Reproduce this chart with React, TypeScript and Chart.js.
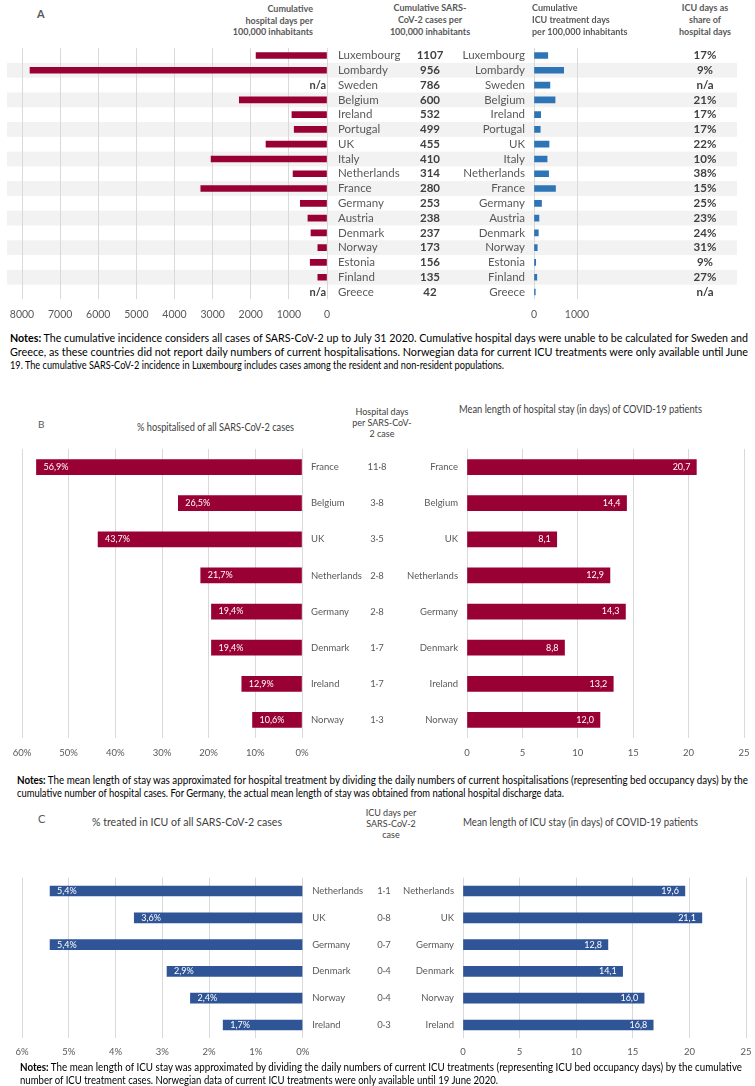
import React, { useEffect, useLayoutEffect, useRef } from 'react';
import { Chart, registerables } from 'chart.js';
Chart.register(...registerables);

const FONT = 'Lato, "Open Sans", "DejaVu Sans", sans-serif';
Chart.defaults.font.family = FONT;
const GRID = '#d9d9d9';
const TICK = '#595959';
const DARK = '#404040';
const RED = '#990033';
const BLUE_A = '#2e75b6';
const BLUE_C = '#2f5597';

// ---- Panel A data ----
const countriesA = ['Luxembourg', 'Lombardy', 'Sweden', 'Belgium', 'Ireland', 'Portugal', 'UK', 'Italy', 'Netherlands', 'France', 'Germany', 'Austria', 'Denmark', 'Norway', 'Estonia', 'Finland', 'Greece'];
const hospDaysA: (number | null)[] = [1860, 7790, null, 2300, 920, 860, 1600, 3040, 890, 3310, 700, 500, 420, 240, 440, 240, null];
const casesA = [1107, 956, 786, 600, 532, 499, 455, 410, 314, 280, 253, 238, 237, 173, 156, 135, 42];
const icuDaysA = [320, 690, 370, 490, 155, 145, 350, 305, 340, 500, 175, 115, 100, 75, 40, 65, 30];
const icuShareA = ['17%', '9%', 'n/a', '21%', '17%', '17%', '22%', '10%', '38%', '15%', '25%', '23%', '24%', '31%', '9%', '27%', 'n/a'];

// ---- Panel B data ----
const countriesB = ['France', 'Belgium', 'UK', 'Netherlands', 'Germany', 'Denmark', 'Ireland', 'Norway'];
const hospPctB = [56.9, 26.5, 43.7, 21.7, 19.4, 19.4, 12.9, 10.6];
const hospDaysPerCaseB = ['11·8', '3·8', '3·5', '2·8', '2·8', '1·7', '1·7', '1·3'];
const stayB = [20.7, 14.4, 8.1, 12.9, 14.3, 8.8, 13.2, 12.0];

// ---- Panel C data ----
const countriesC = ['Netherlands', 'UK', 'Germany', 'Denmark', 'Norway', 'Ireland'];
const icuPctC = [5.4, 3.6, 5.4, 2.9, 2.4, 1.7];
const icuDaysPerCaseC = ['1·1', '0·8', '0·7', '0·4', '0·4', '0·3'];
const icuStayC = [19.6, 21.1, 12.8, 14.1, 16.0, 16.8];

const comma1 = (v: number) => v.toFixed(1).replace('.', ',');

function valueLabels(fmt: (v: number) => string, side: 'left' | 'right', size: number) {
  return {
    id: 'valueLabels',
    afterDatasetsDraw(chart: any) {
      const meta = chart.getDatasetMeta(0);
      const ctx = chart.ctx;
      ctx.save();
      ctx.font = `${size}px ${FONT}`;
      ctx.fillStyle = '#ffffff';
      ctx.textBaseline = 'middle';
      meta.data.forEach((bar: any, i: number) => {
        const v = chart.data.datasets[0].data[i];
        if (v == null) return;
        const p = bar.getProps(['x', 'y', 'base'], true);
        if (side === 'left') {
          ctx.textAlign = 'left';
          ctx.fillText(fmt(v), Math.min(p.x, p.base) + 7, p.y);
        } else {
          ctx.textAlign = 'right';
          ctx.fillText(fmt(v), Math.max(p.x, p.base) - 6, p.y);
        }
      });
      ctx.restore();
    },
  };
}

type Col = { x: number; values: string[]; align: CanvasTextAlign; font: string; color: string };
function columns(cols: Col[]) {
  return {
    id: 'columns',
    afterDraw(chart: any) {
      const ys = chart.scales.y;
      const ctx = chart.ctx;
      ctx.save();
      ctx.textBaseline = 'middle';
      cols.forEach((c) => {
        ctx.font = c.font;
        ctx.fillStyle = c.color;
        ctx.textAlign = c.align;
        c.values.forEach((t, i) => {
          if (t) ctx.fillText(t, c.x, ys.getPixelForValue(i));
        });
      });
      ctx.restore();
    },
  };
}

function bands(x0: number, x1: number, color: string) {
  return {
    id: 'bands',
    beforeDraw(chart: any) {
      const ys = chart.scales.y;
      const n = chart.data.labels.length;
      const h = (ys.bottom - ys.top) / n;
      const ctx = chart.ctx;
      ctx.save();
      ctx.fillStyle = color;
      for (let i = 1; i < n; i += 2) {
        const c = ys.getPixelForValue(i);
        ctx.fillRect(x0, c - h / 2, x1 - x0, h);
      }
      ctx.restore();
    },
  };
}

type BarOpts = {
  labels: string[]; data: (number | null)[]; color: string; thickness: number;
  w: number; h: number; aL: number; aR: number; aT: number; aB: number;
  yPos: 'left' | 'right'; yPad: number; yFont: number;
  min: number; max: number; step: number; reverse: boolean; fmt: (v: number) => string; xFont: number; xPad: number;
  plugins: any[];
};

function barConfig(o: BarOpts): any {
  const padding = o.yPos === 'right'
    ? { left: o.aL, right: 0, top: o.aT, bottom: 0 }
    : { left: 0, right: o.w - o.aR, top: o.aT, bottom: 0 };
  const yWidth = o.yPos === 'right' ? o.w - o.aR : o.aL;
  return {
    type: 'bar',
    data: {
      labels: o.labels,
      datasets: [{ data: o.data, backgroundColor: o.color, barThickness: o.thickness, borderWidth: 0 }],
    },
    options: {
      indexAxis: 'y',
      responsive: true,
      maintainAspectRatio: false,
      animation: false,
      layout: { padding },
      plugins: { legend: { display: false }, tooltip: { enabled: false } },
      scales: {
        x: {
          type: 'linear', min: o.min, max: o.max, reverse: o.reverse,
          ticks: { stepSize: o.step, autoSkip: false, maxRotation: 0, callback: (v: any) => o.fmt(Number(v)), color: TICK, font: { size: o.xFont, family: FONT }, padding: o.xPad },
          grid: { color: GRID, drawTicks: false, lineWidth: 1 },
          border: { display: false },
          afterFit: (s: any) => { s.height = o.h - o.aB; s.paddingLeft = 0; s.paddingRight = 0; },
        },
        y: {
          position: o.yPos,
          grid: { display: false, drawTicks: false },
          border: { display: false },
          ticks: { autoSkip: false, color: TICK, font: { size: o.yFont, family: FONT }, padding: o.yPad },
          afterFit: (s: any) => { s.width = yWidth; s.paddingTop = 0; s.paddingBottom = 0; },
        },
      },
    },
    plugins: o.plugins,
  };
}

function BarCanvas({ left, top, width, height, opts }: { left: number; top: number; width: number; height: number; opts: BarOpts }) {
  const ref = useRef<HTMLCanvasElement>(null);
  useEffect(() => {
    const chart = new Chart(ref.current as HTMLCanvasElement, barConfig(opts));
    return () => chart.destroy();
  }, []);
  return (
    <div style={{ position: 'absolute', left, top, width, height }}>
      <canvas ref={ref} />
    </div>
  );
}

function T({ x, y, size, children, anchor = 'left', fitW, weight = 400, color = '#000' }: any) {
  const ref = useRef<HTMLSpanElement>(null);
  useLayoutEffect(() => {
    const el = ref.current;
    if (!el) return;
    el.style.transform = 'none';
    const w0 = el.getBoundingClientRect().width;
    const k = fitW && w0 > 0 ? fitW / w0 : 1;
    const w = w0 * k;
    const l = anchor === 'left' ? x : anchor === 'center' ? x - w / 2 : x - w;
    el.style.left = l + 'px';
    el.style.transform = `scaleX(${k})`;
  }, []);
  return (
    <span
      ref={ref}
      style={{
        position: 'absolute', left: x, top: y - size * 0.62, fontSize: size, lineHeight: `${size * 1.2}px`,
        fontFamily: FONT, fontWeight: weight, color, whiteSpace: 'nowrap', transformOrigin: '0 0',
      }}
    >
      {children}
    </span>
  );
}

export default function App() {
  const optsA1: BarOpts = {
    labels: countriesA, data: hospDaysA, color: RED, thickness: 6,
    w: 755, h: 290, aL: 22, aR: 327, aT: 8.1, aB: 259.4,
    yPos: 'right', yPad: 11, yFont: 11.5,
    min: 0, max: 8000, step: 1000, reverse: true, fmt: (v) => String(v), xFont: 10.5, xPad: 9,
    plugins: [
      bands(7, 737, '#f2f2f2'),
      columns([
        { x: 326, values: hospDaysA.map((v) => (v == null ? 'n/a' : '')), align: 'right', font: `bold 11px ${FONT}`, color: DARK },
        { x: 430, values: casesA.map(String), align: 'center', font: `bold 11.5px ${FONT}`, color: DARK },
        { x: 705, values: icuShareA, align: 'center', font: `bold 11.5px ${FONT}`, color: DARK },
      ]),
    ],
  };
  const optsA2: BarOpts = {
    labels: countriesA, data: icuDaysA, color: BLUE_A, thickness: 6,
    w: 200, h: 290, aL: 74, aR: 117, aT: 8.1, aB: 259.4,
    yPos: 'left', yPad: 9, yFont: 11.5,
    min: 0, max: 1000, step: 1000, reverse: false, fmt: (v) => String(v), xFont: 10.5, xPad: 9,
    plugins: [],
  };
  const optsB1: BarOpts = {
    labels: countriesB, data: hospPctB, color: RED, thickness: 15,
    w: 400, h: 320, aL: 22, aR: 302, aT: 9, aB: 298,
    yPos: 'right', yPad: 9, yFont: 9.5,
    min: 0, max: 60, step: 10, reverse: true, fmt: (v) => `${v}%`, xFont: 9.5, xPad: 9,
    plugins: [
      valueLabels((v) => `${comma1(v)}%`, 'left', 9),
      columns([{ x: 377, values: hospDaysPerCaseB, align: 'center', font: `9.5px ${FONT}`, color: TICK }]),
    ],
  };
  const optsB2: BarOpts = {
    labels: countriesB, data: stayB, color: RED, thickness: 15,
    w: 365, h: 320, aL: 77, aR: 354, aT: 9, aB: 298,
    yPos: 'left', yPad: 9, yFont: 9.5,
    min: 0, max: 25, step: 5, reverse: false, fmt: (v) => String(v), xFont: 9.5, xPad: 9,
    plugins: [valueLabels(comma1, 'right', 9)],
  };
  const optsC1: BarOpts = {
    labels: countriesC, data: icuPctC, color: BLUE_C, thickness: 10,
    w: 400, h: 195, aL: 22, aR: 302.7, aT: 7.6, aB: 168.4,
    yPos: 'right', yPad: 9.5, yFont: 9.5,
    min: 0, max: 6, step: 1, reverse: true, fmt: (v) => `${v}%`, xFont: 9.5, xPad: 8,
    plugins: [
      valueLabels((v) => `${comma1(v)}%`, 'left', 9),
      columns([{ x: 384, values: icuDaysPerCaseC, align: 'center', font: `9.5px ${FONT}`, color: TICK }]),
    ],
  };
  const optsC2: BarOpts = {
    labels: countriesC, data: icuStayC, color: BLUE_C, thickness: 10,
    w: 365, h: 195, aL: 73, aR: 356, aT: 7.6, aB: 168.4,
    yPos: 'left', yPad: 9, yFont: 9.5,
    min: 0, max: 25, step: 5, reverse: false, fmt: (v) => String(v), xFont: 9.5, xPad: 8,
    plugins: [valueLabels(comma1, 'right', 9)],
  };

  const H = { size: 9, weight: 700, color: TICK };
  return (
    <div style={{ position: 'absolute', left: 0, top: 0, width: 755, height: 1086, overflow: 'hidden', background: '#fff' }}>
      <BarCanvas left={0} top={40} width={755} height={290} opts={optsA1} />
      <BarCanvas left={460} top={40} width={200} height={290} opts={optsA2} />
      <BarCanvas left={0} top={440} width={400} height={320} opts={optsB1} />
      <BarCanvas left={390} top={440} width={365} height={320} opts={optsB2} />
      <BarCanvas left={0} top={870} width={400} height={195} opts={optsC1} />
      <BarCanvas left={390} top={870} width={365} height={195} opts={optsC2} />

      {/* Panel A headers */}
      <T x={37} y={14} size={11} weight={700} color={TICK}>A</T>
      <T x={313} y={10} anchor="right" {...H}>Cumulative</T>
      <T x={313} y={22} anchor="right" {...H}>hospital days per</T>
      <T x={313} y={33} anchor="right" {...H}>100,000  inhabitants</T>
      <T x={430} y={9} anchor="center" {...H}>Cumulative SARS-</T>
      <T x={430} y={21} anchor="center" {...H}>CoV-2 cases per</T>
      <T x={430} y={33} anchor="center" {...H}>100,000 inhabitants</T>
      <T x={532} y={9} {...H}>Cumulative</T>
      <T x={532} y={21} {...H}>ICU treatment days</T>
      <T x={532} y={33} {...H}>per 100,000  inhabitants</T>
      <T x={705} y={9} anchor="center" {...H}>ICU days as</T>
      <T x={705} y={21} anchor="center" {...H}>share of</T>
      <T x={705} y={33} anchor="center" {...H}>hospital days</T>

      {/* Notes A */}
      <T x={10} y={338} size={11} fitW={738}><b>Notes:</b> The cumulative incidence considers all cases of SARS-CoV-2 up to July 31 2020.  Cumulative hospital days were unable to be calculated for Sweden and</T>
      <T x={10} y={352} size={11} fitW={738}>Greece, as these countries did not report daily numbers of current hospitalisations. Norwegian data for current ICU treatments were only available until June</T>
      <T x={10} y={365} size={11} fitW={494}>19. The cumulative SARS-CoV-2 incidence in Luxembourg includes cases among the resident and non-resident populations.</T>

      {/* Panel B headers */}
      <T x={38} y={424} size={10} color={TICK}>B</T>
      <T x={215} y={428} size={10.5} anchor="center" fitW={157} color={DARK}>% hospitalised of all SARS-CoV-2 cases</T>
      <T x={382} y={413} size={9} anchor="center" color={DARK}>Hospital days</T>
      <T x={382} y={424} size={9} anchor="center" color={DARK}>per SARS-CoV-</T>
      <T x={382} y={435} size={9} anchor="center" color={DARK}>2 case</T>
      <T x={580} y={410} size={10.5} anchor="center" fitW={243} color={DARK}>Mean length of hospital stay (in days) of COVID-19 patients</T>

      {/* Notes B */}
      <T x={17} y={781} size={10.5} fitW={731}><b>Notes:</b> The mean length of stay was approximated for hospital treatment by dividing the daily numbers of current hospitalisations (representing bed occupancy days) by the</T>
      <T x={17} y={794} size={10.5} fitW={547}>cumulative number of hospital cases. For Germany, the actual mean length of stay was obtained from national hospital discharge data.</T>

      {/* Panel C headers */}
      <T x={38} y={819} size={11} color={TICK}>C</T>
      <T x={187} y={822} size={11} anchor="center" fitW={190} color={DARK}>% treated in ICU of all SARS-CoV-2 cases</T>
      <T x={391} y={814} size={9} anchor="center" color={DARK}>ICU days per</T>
      <T x={391} y={825} size={9} anchor="center" color={DARK}>SARS-CoV-2</T>
      <T x={391} y={836} size={9} anchor="center" color={DARK}>case</T>
      <T x={580} y={822} size={11} anchor="center" fitW={235} color={DARK}>Mean length of ICU stay (in days) of COVID-19 patients</T>

      {/* Notes C */}
      <T x={20} y={1067} size={11.5} fitW={722}><b>Notes:</b> The mean length of ICU stay was approximated by dividing the daily numbers of current ICU treatments (representing ICU bed occupancy days) by the cumulative</T>
      <T x={20} y={1080} size={11.5} fitW={478}>number of ICU treatment cases. Norwegian data of current ICU treatments were only available until 19 June 2020.</T>
    </div>
  );
}
